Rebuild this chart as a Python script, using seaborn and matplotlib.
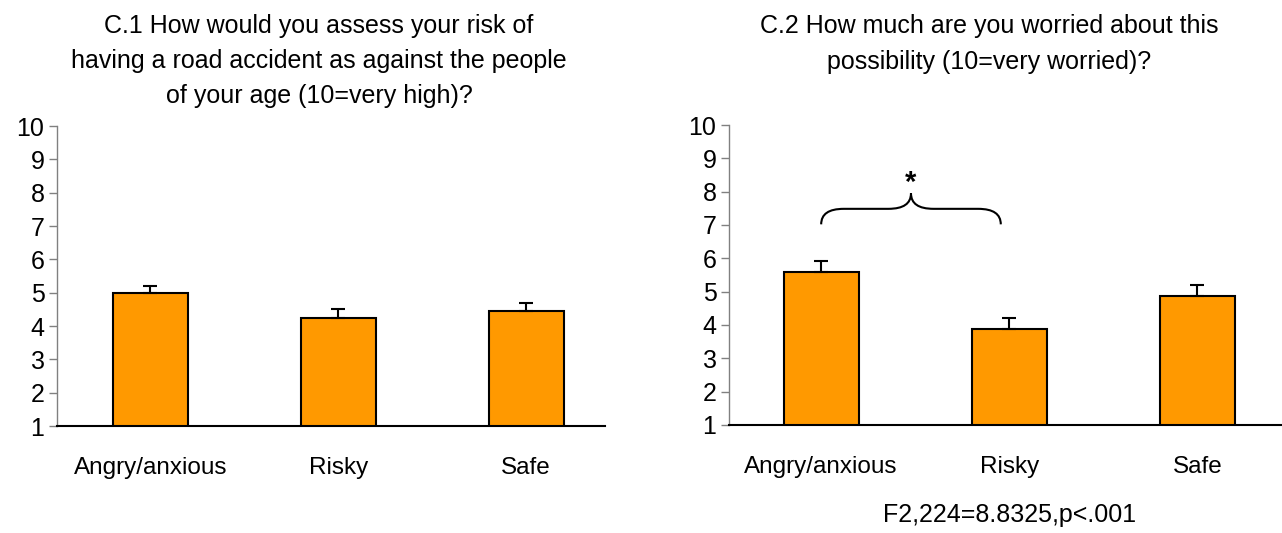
import matplotlib
matplotlib.use("Agg")
import matplotlib.pyplot as plt
from matplotlib.path import Path
from matplotlib.patches import PathPatch
import seaborn as sns
import pandas as pd

# ── data ──────────────────────────────────────────────────────────────────────
groups = ["Angry/anxious", "Risky", "Safe"]
risk_mean = [5.0, 4.25, 4.45]
risk_err = [0.2, 0.26, 0.23]
worry_mean = [5.6, 3.89, 4.88]
worry_err = [0.31, 0.31, 0.31]
y_ticks = list(range(1, 11))

title_c1 = "C.1 How would you assess your risk of\nhaving a road accident as against the people\nof your age (10=very high)?"
title_c2 = "C.2 How much are you worried about this\npossibility (10=very worried)?"
stat_note = "F2,224=8.8325,p<.001"

BAR = "#FF9900"

sns.set_style("white")
plt.rcParams["font.family"] = ["Liberation Sans", "DejaVu Sans"]
plt.rcParams["text.color"] = "black"

fig = plt.figure(figsize=(12.82, 5.33), dpi=100)
ax1 = fig.add_axes([57 / 1282, 107 / 533, 548 / 1282, 300 / 533])
ax2 = fig.add_axes([729 / 1282, 108 / 533, 553 / 1282, 300 / 533])


def draw_panel(ax, means, errs, xlim):
    d = pd.DataFrame({"group": groups, "mean": means})
    sns.barplot(data=d, x="group", y="mean", color=BAR, width=0.4,
                edgecolor="black", linewidth=1.5, saturation=1,
                errorbar=None, ax=ax)
    # upper half of the error bar only
    ax.errorbar(range(len(groups)), means, yerr=[[0] * len(errs), errs],
                fmt="none", ecolor="black", elinewidth=1.5, capsize=5,
                capthick=1.5)
    ax.set_ylim(1, 10)
    ax.set_xlim(*xlim)
    ax.set_yticks(y_ticks)
    ax.set_xlabel("")
    ax.set_ylabel("")
    for s in ("top", "right"):
        ax.spines[s].set_visible(False)
    ax.spines["left"].set_color("#808080")
    ax.spines["left"].set_linewidth(1)
    ax.spines["bottom"].set_color("black")
    ax.spines["bottom"].set_linewidth(1.5)
    ax.spines["bottom"].set_zorder(5)
    ax.tick_params(axis="y", left=True, length=6, width=1, color="#808080",
                   labelsize=18, pad=3, labelcolor="black")
    ax.tick_params(axis="x", bottom=False, length=0, labelsize=17.5, pad=22,
                   labelcolor="black")


draw_panel(ax1, risk_mean, risk_err, (-0.497, 2.42))
draw_panel(ax2, worry_mean, worry_err, (-0.49, 2.45))

# significance brace between Angry/anxious and Risky
x0, x1, y0, y1 = 0.0, 0.955, 7.02, 7.95
xm, ym, r = (x0 + x1) / 2, (y0 + y1) / 2, 0.12
verts = [(x0, y0), (x0, ym), (x0 + r, ym), (xm - r, ym), (xm, ym), (xm, y1),
         (xm, ym), (xm + r, ym), (x1 - r, ym), (x1, ym), (x1, y0)]
codes = [Path.MOVETO, Path.CURVE3, Path.CURVE3, Path.LINETO, Path.CURVE3,
         Path.CURVE3, Path.CURVE3, Path.CURVE3, Path.LINETO, Path.CURVE3,
         Path.CURVE3]
ax2.add_patch(PathPatch(Path(verts, codes), fill=False, lw=1.5,
                        edgecolor="black", clip_on=False))
ax2.text(xm, y1 - 0.1, "*", ha="center", va="bottom", fontsize=21,
         fontweight="bold")

fig.text(319 / 1282, 1 - 61 / 533, title_c1, ha="center", va="center",
         fontsize=18, linespacing=1.6)
fig.text(989 / 1282, 1 - 44 / 533, title_c2, ha="center", va="center",
         fontsize=18, linespacing=1.6)
fig.text(1010 / 1282, 1 - 515 / 533, stat_note, ha="center", va="center",
         fontsize=18)

fig.savefig("out.png", dpi=100)
